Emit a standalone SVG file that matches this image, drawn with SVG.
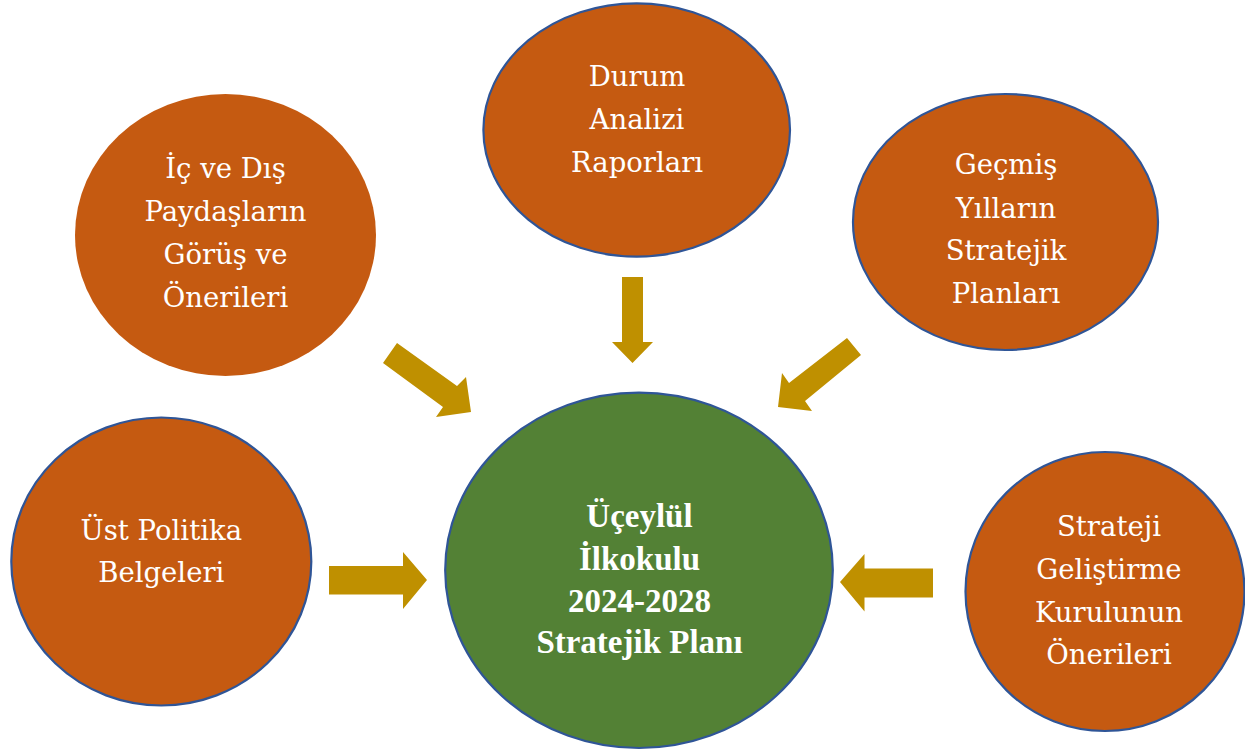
<svg xmlns="http://www.w3.org/2000/svg" width="1245" height="756" viewBox="0 0 1245 756">
<style>
.src{fill:#C55A11;stroke:#2F5597;stroke-width:2.2}
.nostroke{stroke:none}
.ctr{fill:#538135;stroke:#2F5597;stroke-width:2.2}
.lbl{font-family:"DejaVu Serif","Liberation Serif",serif;font-size:27.5px;fill:#FFFFFF;text-anchor:middle}
.clbl{font-family:"Liberation Serif","DejaVu Serif",serif;font-size:33px;font-weight:bold;fill:#FFFFFF;text-anchor:middle}
.arr{fill:#BF9000;stroke:none}
</style>
<rect width="1245" height="756" fill="#FFFFFF"/>
<g id="connectors">
<polygon class="arr" points="622,277 643,277 643,342 653,342 632.5,363 612,342 622,342"/>
<polygon class="arr" points="383,363 397,343 457,386 466,377 471,412 436,417 443,407"/>
<polygon class="arr" points="861,355 847,338 789,383 782,373 778,407 812,411 805,401"/>
<polygon class="arr" points="329,566 403,566 403,552 427,580 403,609 403,594.5 329,594.5"/>
<polygon class="arr" points="933,568.5 864.5,568.5 864.5,554 840,582 864.5,611.5 864.5,597.5 933,597.5"/>
</g>
<g id="node-durum">
<ellipse class="src" cx="636.7" cy="130" rx="153.3" ry="126.7"/>
<text class="lbl" x="637" y="86">Durum</text>
<text class="lbl" x="637" y="128.5">Analizi</text>
<text class="lbl" x="637" y="172">Raporları</text>
</g>
<g id="node-paydas">
<ellipse class="src nostroke" cx="225.5" cy="235" rx="150.5" ry="141"/>
<text class="lbl" x="225.5" y="178">İç ve Dış</text>
<text class="lbl" x="225.5" y="221">Paydaşların</text>
<text class="lbl" x="225.5" y="264">Görüş ve</text>
<text class="lbl" x="225.5" y="306.5">Önerileri</text>
</g>
<g id="node-gecmis">
<ellipse class="src" cx="1005.5" cy="222" rx="152.5" ry="128"/>
<text class="lbl" x="1006" y="173.5">Geçmiş</text>
<text class="lbl" x="1006" y="217.5">Yılların</text>
<text class="lbl" x="1006" y="260">Stratejik</text>
<text class="lbl" x="1006" y="302.5">Planları</text>
</g>
<g id="node-ust">
<ellipse class="src" cx="161.3" cy="561.5" rx="150" ry="144"/>
<text class="lbl" x="161.3" y="540">Üst Politika</text>
<text class="lbl" x="161.3" y="582.3">Belgeleri</text>
</g>
<g id="node-kurul">
<ellipse class="src" cx="1105" cy="591.5" rx="139.5" ry="139.5"/>
<text class="lbl" x="1109" y="536.3">Strateji</text>
<text class="lbl" x="1109" y="578.7">Geliştirme</text>
<text class="lbl" x="1109" y="622">Kurulunun</text>
<text class="lbl" x="1109" y="664">Önerileri</text>
</g>
<g id="node-center">
<ellipse class="ctr" cx="639" cy="570.3" rx="193.8" ry="177.7"/>
<text class="clbl" x="639.5" y="526.7">Üçeylül</text>
<text class="clbl" x="639.5" y="570">İlkokulu</text>
<text class="clbl" x="639.5" y="611.7">2024-2028</text>
<text class="clbl" x="639.5" y="653">Stratejik Planı</text>
</g>
</svg>
